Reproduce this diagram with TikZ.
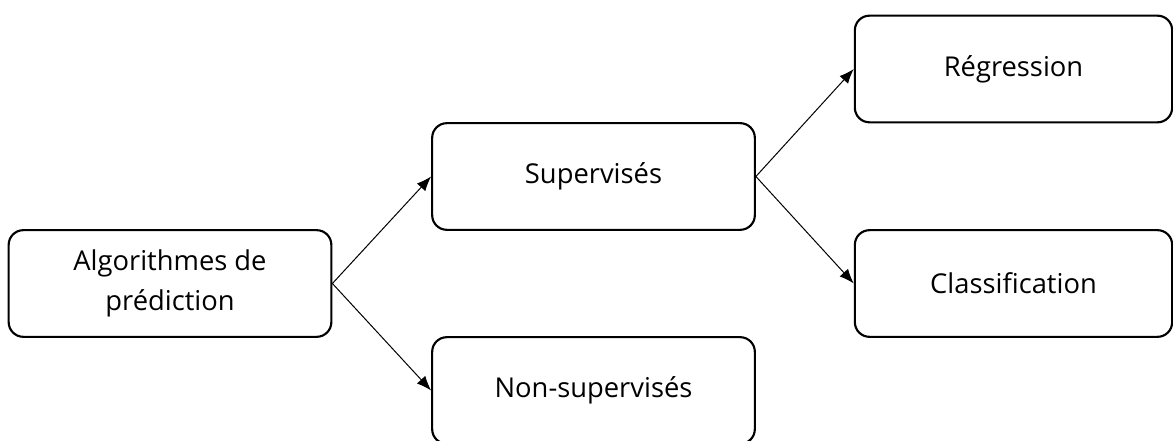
\documentclass[tikz,border=0pt]{standalone}
\usepackage{fontspec}
\setmainfont{Open Sans}
\usepackage{tikz}
\usetikzlibrary{arrows.meta}
\tikzset{
  algobox/.style={draw, line width=1.6pt, rounded corners=11pt, minimum width=242pt, minimum height=80pt, align=center, font=\fontsize{20.5}{25}\selectfont, inner sep=0pt},
  algoarrow/.style={-{Latex[length=11pt,width=8.5pt]}, line width=0.75pt}
}
\begin{document}
\begin{tikzpicture}[x=0.75pt,y=-0.75pt]
\def \W {1173}
\def \H {441}
\useasboundingbox (0,0) rectangle (\W,\H);
\node[algobox] (algo) at (170,283.5) {Algorithmes de\\[5pt]prédiction};
\node[algobox] (sup) at (593.5,176.5) {Supervisés};
\node[algobox] (nonsup) at (593.5,390.5) {Non-supervisés};
\node[algobox, minimum width=238pt] (reg) at (1013.5,69) {Régression};
\node[algobox, minimum width=238pt] (classif) at (1013.5,283.5) {Classification};
\draw[algoarrow] (algo.east) -- (sup.west);
\draw[algoarrow] (algo.east) -- (nonsup.west);
\draw[algoarrow] (sup.east) -- (reg.west);
\draw[algoarrow] (sup.east) -- (classif.west);
\end{tikzpicture}
\end{document}
